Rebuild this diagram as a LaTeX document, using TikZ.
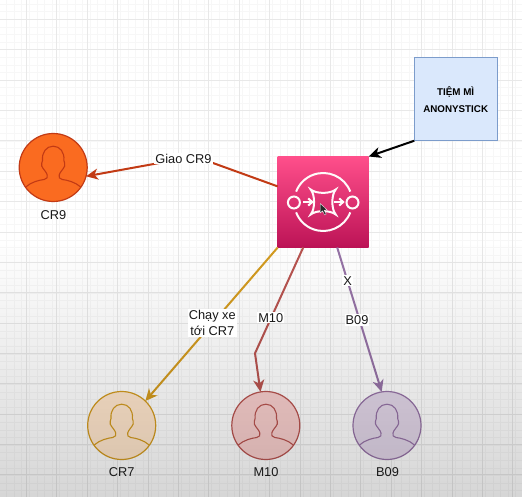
\documentclass[tikz,border=0pt]{standalone}
\usepackage{fontspec}
\setmainfont{Liberation Sans}
\usetikzlibrary{arrows.meta}
\definecolor{crnine}{HTML}{C23A14}
\definecolor{crninefill}{HTML}{FA6B20}
\definecolor{crseven}{HTML}{D39B20}
\definecolor{crsevenfill}{HTML}{FFE6CC}
\definecolor{mten}{HTML}{B85450}
\definecolor{mtenfill}{HTML}{F8CECC}
\definecolor{bnine}{HTML}{9673A6}
\definecolor{bninefill}{HTML}{E1D5E7}
\definecolor{mqtop}{HTML}{FF4F8B}
\definecolor{mqbot}{HTML}{BC1356}
\definecolor{shopline}{HTML}{7C9CCB}
\definecolor{shopfill}{HTML}{DAE8FC}
\tikzset{
  x=1pt, y=-1pt,
  lbl/.style={font=\fontsize{12.8}{15.7}\selectfont, text=black!90, inner sep=0pt, align=center},
  edgelbl/.style={lbl, fill=white, inner sep=1pt},
  avatar/.style={circle, draw, line width=1.2pt, minimum size=68pt, inner sep=0pt, outer sep=0pt},
  conn/.style={line width=2pt, -{Stealth[length=12pt,width=11pt,inset=3.5pt]}},
  userglyph/.pic={
    \path[line width=1.1pt, pic actions]
      (-27.5,19.5) .. controls (-22,14.5) and (-14,12.6) .. (-9,12)
      .. controls (-6,11.6) and (-5.5,9.5) .. (-6,7.5)
      .. controls (-6.6,4.5) and (-10,2) .. (-11.5,-1.5)
      .. controls (-12.2,-3.5) and (-11,-5) .. (-10.7,-7)
      .. controls (-11.5,-15) and (-7,-21.3) .. (0,-21.3)
      .. controls (7,-21.3) and (11.5,-15) .. (10.7,-7)
      .. controls (11,-5) and (12.2,-3.5) .. (11.5,-1.5)
      .. controls (10,2) and (6.6,4.5) .. (6,7.5)
      .. controls (5.5,9.5) and (6,11.6) .. (9,12)
      .. controls (14,12.6) and (22,14.5) .. (27.5,19.5);
  },
  mqglyph/.pic={
    \begin{scope}[white!92!pink, line width=2pt]
      \draw (0,0) ++(21:29pt) arc[start angle=21, end angle=159, radius=29pt];
      \draw (0,0) ++(-21:29pt) arc[start angle=-21, end angle=-159, radius=29pt];
      \draw (-29.3,0.5) circle[radius=6pt];
      \draw (29.3,0.5) circle[radius=6pt];
      \draw (-12.5,-12.5) .. controls (-7,-8) and (7,-8) .. (12.5,-12.5)
        .. controls (8,-7) and (8,7) .. (12.5,12.5)
        .. controls (7,8) and (-7,8) .. (-12.5,12.5)
        .. controls (-8,7) and (-8,-7) .. cycle;
      \draw (-20,0) -- (-11,0);
      \draw (-15,-3.6) -- (-11,0) -- (-15,3.6);
      \draw (11,0) -- (20,0);
      \draw (16,-3.6) -- (20,0) -- (16,3.6);
    \end{scope}
    \fill[black!85, draw=white, line width=0.3pt]
      (-3,1.5) -- (-3,11) -- (-0.6,8.8) -- (1.5,13) -- (3,12.2) -- (1,8.2) -- (4,8) -- cycle;
  }
}
\begin{document}
\begin{tikzpicture}
\useasboundingbox (0,0) rectangle (522,497);
\fill[white] (0,0) rectangle (522,497);
% grid
\foreach \i in {-4,...,69} {
  \draw[black!3, line width=0.8pt] ({-1.1+7.6*\i},0) -- ++(0,497);
  \draw[black!3, line width=0.8pt] (0,{4.3+7.6*\i}) -- ++(522,0);
}
\foreach \i in {0,...,16} {
  \draw[black!9, line width=1pt] ({26.5+30.4*\i},0) -- ++(0,497);
}
\foreach \i in {0,...,15} {
  \draw[black!9, line width=1pt] (0,{19.6+30.35*\i}) -- ++(522,0);
}

% nodes
\node[avatar, draw=crnine, fill=crninefill] (cr9) at (53.2,167.5) {};
\node[avatar, draw=crseven, fill=crsevenfill] (cr7) at (121.7,425.5) {};
\node[avatar, draw=mten, fill=mtenfill] (m10) at (265.8,425.5) {};
\node[avatar, draw=bnine, fill=bninefill] (b09) at (387,425.5) {};
\pic[draw=crnine] at (cr9.center) {userglyph};
\pic[draw=crseven] at (cr7.center) {userglyph};
\pic[draw=mten] at (m10.center) {userglyph};
\pic[draw=bnine] at (b09.center) {userglyph};

\node[rectangle, minimum size=91pt, inner sep=0pt, outer sep=0pt, top color=mqtop, bottom color=mqbot] (mq) at (323.2,202) {};
\pic at (mq.center) {mqglyph};

\node[rectangle, draw=shopline, fill=shopfill, line width=1pt, minimum size=83.5pt, inner sep=0pt, outer sep=0pt] (shop) at (456,99) {};

% connectors
\coordinate (bendcr9) at (195,156.5);
\coordinate (bendm10) at (255,353.3);
\draw[conn, draw=crnine] ([yshift=15.6pt]mq.west) -- (bendcr9) -- (cr9.-15.7);
\draw[conn, draw=crseven] (mq.south west) -- (cr7.46);
\draw[conn, draw=mten] ([xshift=-20pt]mq.south) -- (bendm10) -- (m10.99);
\draw[conn, draw=bnine] ([xshift=14pt]mq.south) -- (b09.99);
\draw[conn, draw=black] (shop.south west) -- (mq.north east);

% video-like darkening of the lower part
\foreach \i in {0,...,63} {
  \fill[black, opacity={0.0025*(\i+0.5)}] (0,{241+4*\i}) rectangle (522,{245+4*\i});
}

% labels
\node[edgelbl] (lcr9) at (183.5,158.5) {Giao CR9};
\node[edgelbl] (lcr7) at (212.3,323) {Chạy xe\\tới CR7};
\node[edgelbl] (lm10) at (270.7,317.7) {M10};
\node[edgelbl] (lx) at (347.7,280.7) {X};
\node[edgelbl] (lb09) at (357,320) {B09};
\node[lbl] (ncr9) at (53.5,214.7) {CR9};
\node[lbl] (ncr7) at (121.7,472) {CR7};
\node[lbl] (nm10) at (266,472) {M10};
\node[lbl] (nb09) at (387.5,472) {B09};
\node[inner sep=0pt, align=center, font=\fontsize{9.8}{17}\selectfont\bfseries] (lshop) at (455.7,99.5) {TIỆM MÌ\\ANONYSTICK};
\end{tikzpicture}
\end{document}
